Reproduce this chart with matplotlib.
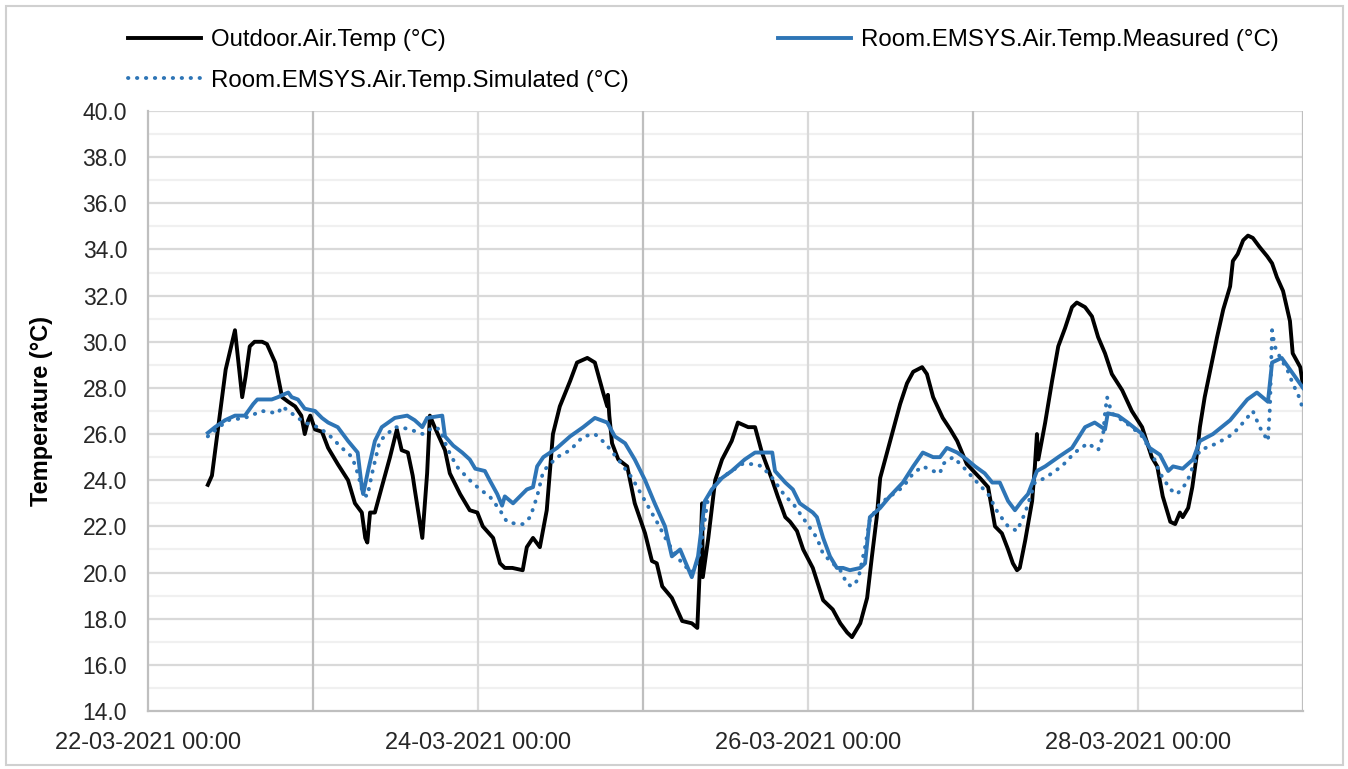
import numpy as np
import pandas as pd
import matplotlib
matplotlib.use('Agg')
import matplotlib.pyplot as plt
import matplotlib.dates as mdates
from matplotlib.patches import Rectangle

plt.rcParams['font.family'] = ['Liberation Sans', 'DejaVu Sans']

# hours since 22-03-2021 00:00 and temperatures
out_h = [8.7, 9.3, 10.3, 11.3, 12.65, 13.7, 14.2, 14.8, 15.5, 16.6, 17.3, 18.5, 18.9, 19.5,
         20.4, 21.4, 22.3, 22.8, 23.3, 23.6, 24.3, 25.3, 26.2, 27.6, 29.1, 30.1, 31.1, 31.6,
         31.9, 32.3, 33.0, 34.0, 35.2, 36.2, 36.9, 37.8, 38.5, 38.8, 39.9, 40.6, 41.0, 41.7,
         43.2, 43.9, 45.4, 46.8, 47.9, 48.7, 50.2, 51.2, 51.9, 53.0, 54.5, 55.1, 56.0, 57.0,
         58.0, 58.9, 59.9, 61.4, 62.4, 63.9, 65.0, 66.2, 66.8, 66.9, 67.1, 67.5, 68.4, 69.7,
         70.8, 72.3, 73.3, 74.0, 74.8, 76.2, 77.7, 79.1, 79.9, 80.3, 80.6, 80.7, 81.5, 82.5,
         83.5, 84.9, 85.8, 87.3, 88.3, 89.3, 90.8, 91.6, 92.7, 93.4, 94.4, 95.3, 96.7, 98.2,
         99.6, 100.7, 101.7, 102.4, 103.6, 104.6, 105.3, 106.0, 106.5, 107.5, 108.4, 109.4,
         110.4, 111.3, 112.6, 113.3, 114.2, 115.6, 116.7, 117.7, 119.1, 121.0, 122.2, 123.2,
         124.2, 125.1, 125.8, 126.4, 126.8, 127.6, 128.6, 129.0, 129.3, 129.5, 130.5, 131.5,
         132.4, 133.4, 134.4, 135.1, 136.3, 137.3, 138.2, 139.2, 140.2, 141.7, 143.1, 144.6,
         146.0, 146.8, 147.6, 148.7, 149.4, 150.1, 150.5, 151.3, 151.9, 152.6, 153.0, 153.7,
         154.8, 155.5, 156.4, 157.4, 157.8, 158.5, 159.3, 160.0, 160.7, 161.7, 162.8, 163.5,
         164.2, 165.1, 166.1, 166.5, 167.6, 168.0]
out_t = [23.8, 24.2, 26.5, 28.8, 30.5, 27.6, 28.5, 29.8, 30.0, 30.0, 29.9, 29.1, 28.5, 27.6,
         27.4, 27.2, 26.8, 26.0, 26.6, 26.8, 26.2, 26.1, 25.4, 24.7, 24.0, 23.0, 22.6, 21.5,
         21.3, 22.6, 22.6, 23.7, 25.0, 26.2, 25.3, 25.2, 24.2, 23.6, 21.5, 24.3, 26.8, 26.3,
         25.3, 24.3, 23.4, 22.7, 22.6, 22.0, 21.5, 20.4, 20.2, 20.2, 20.1, 21.1, 21.5, 21.1,
         22.7, 26.0, 27.2, 28.3, 29.1, 29.3, 29.1, 27.8, 27.2, 27.7, 26.8, 25.6, 24.9, 24.6,
         23.0, 21.7, 20.5, 20.4, 19.4, 18.9, 17.9, 17.8, 17.6, 20.4, 23.0, 19.8, 21.5, 24.0,
         24.9, 25.7, 26.5, 26.3, 26.3, 25.2, 24.0, 23.3, 22.4, 22.2, 21.8, 21.0, 20.2, 18.8,
         18.4, 17.8, 17.4, 17.2, 17.8, 18.9, 20.7, 22.4, 24.1, 25.2, 26.2, 27.3,
         28.2, 28.7, 28.9, 28.6, 27.6, 26.7, 26.2, 25.7, 24.7, 24.1, 23.7, 22.0,
         21.7, 21.0, 20.4, 20.1, 20.2, 21.4, 23.1, 24.6, 26.0, 24.9, 26.5, 28.3,
         29.8, 30.6, 31.5, 31.7, 31.5, 31.1, 30.2, 29.5, 28.6, 27.9, 27.0, 26.3,
         25.0, 24.6, 23.3, 22.2, 22.1, 22.6, 22.4, 22.8, 23.7, 25.2, 26.3, 27.6,
         29.2, 30.2, 31.4, 32.4, 33.5, 33.8, 34.4, 34.6, 34.5, 34.1, 33.7, 33.4,
         32.8, 32.2, 30.9, 29.5, 28.9, 28.1]

meas_h = [8.7, 9.75, 11.2, 12.65, 14.1, 15.3, 15.9, 18.0, 18.9, 19.6, 20.4, 20.9, 21.8, 22.8,
          24.3, 25.3, 26.2, 27.6, 29.1, 30.5, 31.1, 31.3, 32.0, 33.0, 34.0, 35.9, 37.7, 38.8,
          39.9, 40.6, 42.8, 43.2, 44.4, 45.7, 46.8, 47.6, 49.0, 49.7, 50.8, 51.5, 51.9, 53.1,
          54.1, 55.1, 56.0, 56.6, 57.5, 59.5, 61.4, 63.3, 65.0, 66.8, 67.9, 69.4, 70.8, 72.3,
          73.7, 75.2, 76.2, 77.4, 78.1, 79.1, 80.0, 81.0, 82.0, 83.5, 84.9, 86.8, 88.3, 90.8,
          91.2, 92.7, 93.8, 94.8, 96.7, 97.3, 98.2, 99.2, 100.2, 101.1, 102.1, 103.6, 104.3,
          105.0, 106.5, 107.9, 109.8, 111.3, 112.7, 114.2, 115.2, 116.2, 117.7, 119.1, 120.3,
          121.7, 122.8, 123.9, 125.1, 126.1, 127.1, 128.0, 129.3, 130.5, 132.4, 134.4, 136.3,
          137.7, 139.2, 139.6, 141.1, 142.5, 144.6, 145.7, 147.2, 148.4, 149.1, 150.5, 152.0,
          153.0, 154.9, 157.4, 159.9, 161.3, 162.9, 163.5, 164.9, 166.1, 168.0]
meas_t = [26.05, 26.3, 26.6, 26.8, 26.8, 27.3, 27.5, 27.5, 27.6, 27.7, 27.8, 27.6, 27.5, 27.1,
          27.0, 26.7, 26.5, 26.3, 25.7, 25.2, 23.7, 23.4, 24.4, 25.7, 26.3, 26.7, 26.8, 26.6,
          26.3, 26.7, 26.8, 25.9, 25.5, 25.2, 24.9, 24.5, 24.4, 24.0, 23.4, 22.9, 23.3, 23.0,
          23.3, 23.6, 23.7, 24.6, 25.0, 25.4, 25.9, 26.3, 26.7, 26.5, 25.9, 25.6, 24.9, 24.0,
          23.0, 22.0, 20.7, 21.0, 20.5, 19.8, 20.7, 23.1, 23.6, 24.1, 24.4, 24.9, 25.2, 25.2,
          24.4, 23.9, 23.6, 23.0, 22.6, 22.4, 21.5, 20.7, 20.2, 20.2, 20.1, 20.2, 20.4,
          22.4, 22.8, 23.3, 23.9, 24.6, 25.2, 25.0, 25.0, 25.4, 25.2, 24.9, 24.6,
          24.3, 23.9, 23.9, 23.1, 22.7, 23.1, 23.4, 24.4, 24.6, 25.0, 25.4, 26.3,
          26.5, 26.2, 26.9, 26.8, 26.5, 26.0, 25.4, 25.1, 24.4, 24.6, 24.5, 24.9,
          25.7, 26.0, 26.6, 27.5, 27.8, 27.4, 29.1, 29.3, 28.8, 28.0]

sim_h = [8.7, 11.6, 14.1, 16.6, 18.9, 19.5, 20.9, 21.8, 22.8, 24.7, 26.2, 28.2, 29.7, 30.5,
         31.3, 31.9, 32.6, 33.7, 35.9, 36.7, 38.1, 40.0, 41.5, 42.5, 43.5, 44.9, 46.8, 48.3,
         49.7, 51.2, 52.2, 53.7, 54.5, 55.6, 56.6, 57.5, 59.5, 61.4, 63.3, 65.0, 66.5, 68.4,
         70.4, 72.3, 74.2, 75.6, 76.7, 77.7, 79.1, 80.0, 80.6, 81.5, 82.9, 84.4, 86.4, 88.3,
         89.3, 90.8, 92.7, 93.8, 95.9, 97.3, 98.2, 99.6, 100.7, 101.7, 102.4, 103.3, 104.3,
         105.0, 106.5, 108.4, 109.8, 111.3, 112.7, 114.2, 115.2, 115.6, 117.1, 118.5, 120.0,
         122.2, 123.6, 125.1, 126.4, 127.6, 129.0, 130.5, 132.9, 134.8, 136.7, 138.2, 138.9,
         139.2, 139.5, 140.2, 141.7, 143.1, 144.6, 146.0, 147.2, 148.7, 149.7, 151.1, 152.0,
         153.0, 155.5, 157.8, 159.3, 160.7, 161.7, 162.9, 163.2, 163.5, 163.9, 164.7, 165.7,
         166.5, 167.6, 168.0]
sim_t = [25.9, 26.6, 26.7, 27.0, 26.9, 27.2, 26.9, 26.7, 26.5, 26.3, 26.0, 25.4, 25.0, 24.3,
         23.4, 23.3, 24.3, 25.7, 26.3, 26.3, 26.2, 26.0, 26.3, 26.2, 25.4, 24.6, 24.0, 23.6,
         23.3, 22.7, 22.2, 22.1, 22.1, 22.4, 23.3, 24.4, 25.0, 25.3, 25.9, 26.0, 25.6, 24.9,
         24.1, 23.1, 22.1, 21.3, 20.8, 20.4, 20.0, 20.5, 21.5, 23.3, 24.0, 24.3, 24.7, 24.7,
         24.6, 24.1, 23.3, 23.0, 22.1, 21.5, 20.8, 20.4, 20.1, 19.5, 19.4, 19.7, 21.1,
         22.3, 23.0, 23.4, 23.7, 24.3, 24.6, 24.4, 24.3, 24.7, 25.0, 24.6, 24.1,
         23.4, 22.6, 22.0, 21.8, 22.6, 23.9, 24.1, 24.6, 25.2, 25.6, 25.3, 25.9,
         26.9, 27.6, 26.9, 26.6, 26.3, 25.9, 25.2, 24.3, 23.6, 23.4, 23.9, 24.6,
         25.3, 25.6, 26.0, 26.5, 27.0, 26.3, 25.7, 27.2, 30.5, 29.8, 29.3, 28.8,
         28.2, 27.5, 27.0]

start = pd.Timestamp('2021-03-22 00:00')
end = pd.Timestamp('2021-03-29 00:00')
tick_days = [0, 2, 4, 6]

def to_time(h):
    return start + pd.to_timedelta(h, unit='h')

blue = '#2E75B6'

fig = plt.figure(figsize=(13.48, 7.69), dpi=100)
ax = fig.add_axes([148/1348, 58/769, 1155/1348, 600/769])

# grid
for v in np.arange(15, 40, 2):
    ax.axhline(v, color='#F0F0F0', lw=1.6, zorder=0)
for v in np.arange(16, 41, 2):
    ax.axhline(v, color='#D9D9D9', lw=1.6, zorder=0)
for d in range(1, 8):
    day = start + pd.Timedelta(days=d)
    ax.axvline(day, color='#BFBFBF' if d % 2 == 1 else '#D9D9D9', lw=1.6, zorder=0)

l_out, = ax.plot(to_time(out_h), out_t, color='black', lw=2.8, label='Outdoor.Air.Temp (°C)')
l_meas, = ax.plot(to_time(meas_h), meas_t, color=blue, lw=2.8,
                  label='Room.EMSYS.Air.Temp.Measured (°C)')
l_sim, = ax.plot(to_time(sim_h), sim_t, color=blue, lw=2.8, linestyle=(0, (0.1, 2.2)),
                 dash_capstyle='round', label='Room.EMSYS.Air.Temp.Simulated (°C)')

ax.set_xlim(start, end)
ax.set_ylim(14, 40)
ax.set_yticks(np.arange(14, 40.1, 2))
ax.yaxis.set_major_formatter(matplotlib.ticker.FormatStrFormatter('%.1f'))
ax.set_xticks([start + pd.Timedelta(days=d) for d in tick_days])
ax.xaxis.set_major_formatter(mdates.DateFormatter('%d-%m-%Y %H:%M'))
ax.tick_params(axis='both', length=0, colors='#262626')
ax.tick_params(axis='y', labelsize=16.5, pad=15)
ax.tick_params(axis='x', labelsize=17, pad=15)

for s in ['top', 'right']:
    ax.spines[s].set_visible(False)
for s in ['left', 'bottom']:
    ax.spines[s].set_color('#BFBFBF')
    ax.spines[s].set_linewidth(1.6)

ax.set_ylabel('Temperature (°C)', fontsize=17, fontweight='bold', color='black')
ax.yaxis.set_label_coords(-0.082, 0.5)

fig.legend([l_out, l_sim, l_meas],
           [l_out.get_label(), l_sim.get_label(), l_meas.get_label()],
           loc='upper left', bbox_to_anchor=(128/1348, 1 - 29/769), ncol=2,
           frameon=False, fontsize=17.3, handlelength=3.05, handletextpad=0.42,
           labelspacing=0.78, columnspacing=6.2, borderpad=0, borderaxespad=0)

fig.patches.append(Rectangle((6/1348, 4/769), 1337/1348, 759/769, transform=fig.transFigure,
                             fill=False, edgecolor='#D0D0D0', lw=1.5))

fig.savefig('out.png', dpi=100)
